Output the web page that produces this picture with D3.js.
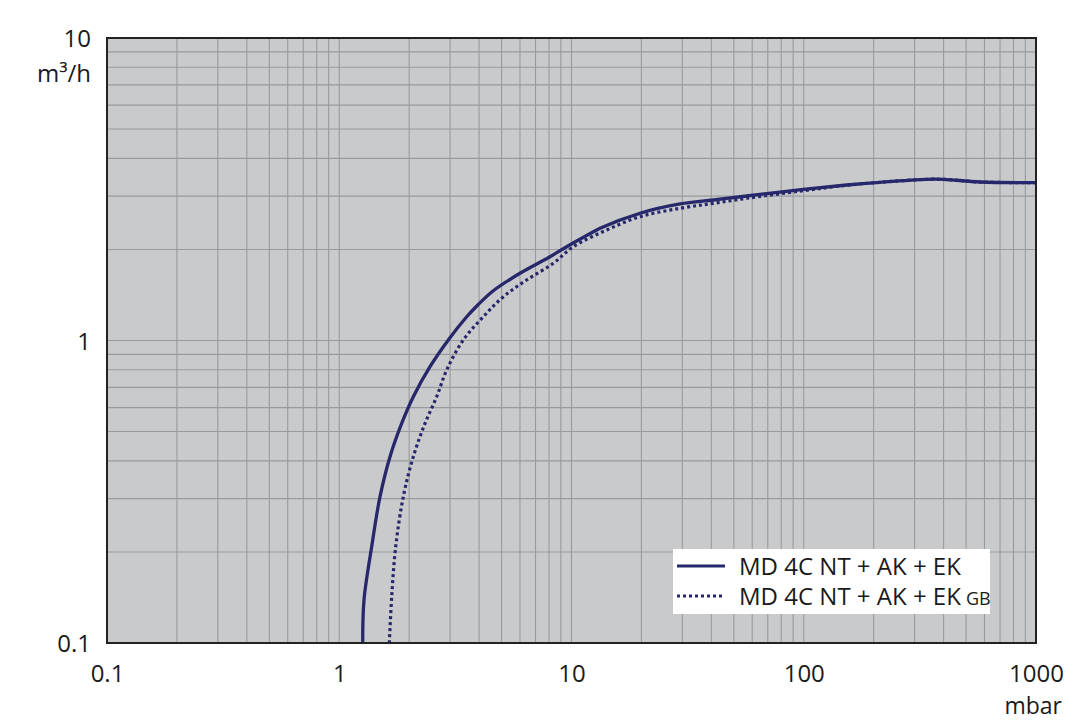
<!DOCTYPE html>
<html><head><meta charset="utf-8">
<script src="https://cdn.jsdelivr.net/npm/d3@7"></script>
<style>
html,body{margin:0;padding:0;background:#fff;}
svg{display:block;font-family:"Open Sans",sans-serif;}
</style></head>
<body><svg id="chart" width="1080" height="721"></svg>
<script>
// Data (pressure in mbar, pumping speed in m³/h)
const solidPressure = [1.262,1.278,1.379,1.498,1.654,1.857,2.084,2.459,2.948,3.538,3.95,4.606,6.0,8.08,9.53,12.84,13.27,19.72,29.33,40.8,56.8,99.5,153,213,338,399,574,1000];
const solidSpeed    = [0.1,0.1387,0.208,0.3046,0.413,0.532,0.652,0.819,1.004,1.198,1.31,1.46,1.668,1.892,2.042,2.319,2.35,2.634,2.827,2.914,3.004,3.16,3.266,3.334,3.41,3.41,3.342,3.325];
const gbPressure = [1.643,1.682,1.75,1.887,2.084,2.34,2.628,2.902,3.42,4.17,5.09,6.41,8.35,10.18,14.18,19.72,29.33,40.8,56.8,99.5,153,213,338,399,574,1000];
const gbSpeed    = [0.1,0.1423,0.208,0.3046,0.413,0.532,0.652,0.799,1.004,1.198,1.396,1.585,1.8,2.042,2.319,2.567,2.735,2.841,2.952,3.127,3.26,3.334,3.41,3.41,3.342,3.325];
const seriesNames = ["MD 4C NT + AK + EK", "MD 4C NT + AK + EK"];
const seriesSuffix = ["", "GB"];
const xTickValues = [0.1, 1, 10, 100, 1000];
const xTickLabels = ["0.1", "1", "10", "100", "1000"];
const yTickValues = [0.1, 1, 10];
const yTickLabels = ["0.1", "1", "10"];
const xUnit = "mbar";
const yUnit = "m³/h";

const svg = d3.select("#chart");
const L = 107, R = 1036, T = 38, B = 643;
const x = d3.scaleLog().domain([0.1, 1000]).range([L, R]);
const y = d3.scaleLog().domain([0.1, 10]).range([B, T]);
const navy = "#27276b";
const txt = "#1a1a1a";
const fs = 24;

// background
svg.append("rect").attr("x", L).attr("y", T).attr("width", R - L).attr("height", B - T).attr("fill", "#c9cacc");

// grid
const xGrid = [];
for (let d = 0.1; d < 1000; d *= 10) for (let m = 1; m <= 9; m++) xGrid.push(+(d * m).toPrecision(3));
const yGrid = [];
for (let d = 0.1; d < 10; d *= 10) for (let m = 1; m <= 9; m++) yGrid.push(+(d * m).toPrecision(3));
const g = svg.append("g");
g.selectAll("line.vx").data(xGrid.filter(v => v > 0.1)).join("line")
  .attr("x1", d => x(d)).attr("x2", d => x(d)).attr("y1", T).attr("y2", B)
  .attr("stroke", "#999a9c").attr("stroke-width", 1.1);
g.selectAll("line.hy").data(yGrid.filter(v => v > 0.1)).join("line")
  .attr("y1", d => y(d)).attr("y2", d => y(d)).attr("x1", L).attr("x2", R)
  .attr("stroke", "#999a9c").attr("stroke-width", 1.1);

// clip
svg.append("clipPath").attr("id", "clip").append("rect").attr("x", L).attr("y", T).attr("width", R - L).attr("height", B - T);

const line = d3.line().x(d => x(d[0])).y(d => y(d[1])).curve(d3.curveCatmullRom.alpha(0.5));
const solid = solidPressure.map((p, i) => [p, solidSpeed[i]]);
const gb = gbPressure.map((p, i) => [p, gbSpeed[i]]);

svg.append("path").attr("clip-path", "url(#clip)").attr("d", line(gb))
  .attr("fill", "none").attr("stroke", navy).attr("stroke-width", 3.2).attr("stroke-dasharray", "3,3");
svg.append("path").attr("clip-path", "url(#clip)").attr("d", line(solid))
  .attr("fill", "none").attr("stroke", navy).attr("stroke-width", 3.3);

// border
svg.append("rect").attr("x", L).attr("y", T).attr("width", R - L).attr("height", B - T)
  .attr("fill", "none").attr("stroke", "#222").attr("stroke-width", 2);

// axes (labels only)
const xAxis = d3.axisBottom(x).tickValues(xTickValues).tickFormat((d, i) => xTickLabels[i]).tickSize(0).tickPadding(0);
const xa = svg.append("g").attr("transform", `translate(0,${B})`).call(xAxis);
xa.select(".domain").remove();
xa.selectAll("text").attr("font-size", fs).attr("fill", txt).attr("font-family", "Open Sans").attr("dy", null).attr("y", 39);

const yAxis = d3.axisLeft(y).tickValues(yTickValues).tickFormat((d, i) => yTickLabels[i]).tickSize(0).tickPadding(0);
const ya = svg.append("g").attr("transform", `translate(${L},0)`).call(yAxis);
ya.select(".domain").remove();
ya.selectAll("text").attr("font-size", fs).attr("fill", txt).attr("font-family", "Open Sans").attr("x", -16).attr("dy", "0.36em");

svg.append("text").attr("x", 91).attr("y", 82).attr("text-anchor", "end").attr("font-size", fs).attr("fill", txt).text(yUnit);
svg.append("text").attr("x", 1062).attr("y", 713.5).attr("text-anchor", "end").attr("font-size", 23).attr("fill", txt).text(xUnit);

// legend
const lg = svg.append("g");
lg.append("rect").attr("x", 673).attr("y", 549).attr("width", 317).attr("height", 65).attr("fill", "#fff");
[0, 1].forEach(i => {
  const yy = 566 + i * 30;
  lg.append("line").attr("x1", 677).attr("x2", 725).attr("y1", yy).attr("y2", yy)
    .attr("stroke", navy).attr("stroke-width", 3.2).attr("stroke-dasharray", i === 1 ? "3,3" : null);
  const t = lg.append("text").attr("x", 739).attr("y", yy + 9).attr("font-size", fs).attr("fill", txt).text(seriesNames[i]);
  if (seriesSuffix[i]) t.append("tspan").attr("font-size", 18).attr("dx", 5).text(seriesSuffix[i]);
});
</script></body></html>
